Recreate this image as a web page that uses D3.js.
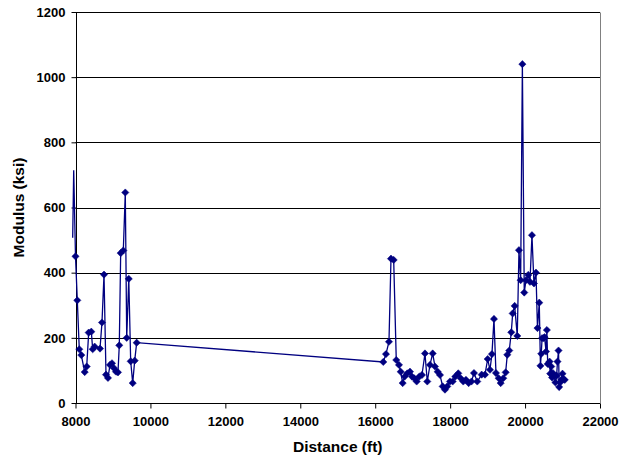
<!DOCTYPE html>
<html><head><meta charset="utf-8">
<script src="https://cdn.jsdelivr.net/npm/d3@7"></script>
<style>
html,body{margin:0;padding:0;background:#fff;}
svg{display:block;}
text{font-family:"Liberation Sans",Arial,sans-serif;font-weight:bold;fill:#000;}
</style></head>
<body>
<svg id="chart" width="629" height="463"></svg>
<script>
const distance = [7925,7952,8000,8048,8101,8155,8246,8299,8352,8422,8459,8512,8654,8707,8761,8814,8867,8921,8974,9028,9081,9134,9169,9206,9276,9329,9367,9422,9473,9527,9580,9633,
16215,16287,16367,16421,16493,16562,16634,16680,16733,16786,16856,16928,16981,17043,17107,17176,17248,17328,17390,17462,17534,17595,17667,17729,17801,17862,17923,17995,18067,18137,18217,18281,18350,18422,18494,18569,18636,18724,
18841,18930,19002,19063,19116,19170,19223,19295,19349,19418,19482,19525,19578,19632,19669,19722,19792,19837,19882,19928,19978,20024,20085,20131,20184,20237,20291,20331,20379,
20410,20432,20454,20499,20521,20560,20582,20604,20654,20671,20699,20721,20743,20776,20810,20843,20865,20893,20910,20938,20965,20999,21027,21060];
const modulus = [507,714,450,315,165,147,95,112,216,219,165,173,167,247,394,87,77,117,122,107,96,94,177,460,468,646,200,381,128,61,130,185,
126,150,188,443,439,132,117,96,61,81,91,96,81,76,66,81,86,152,66,117,152,112,96,86,51,41,51,66,66,81,91,76,66,71,61,66,92,66,
87,87,135,102,150,258,92,76,61,76,94,148,161,217,275,298,206,469,377,1040,339,377,393,372,515,367,400,230,308,
114,151,199,199,202,158,224,120,127,90,112,78,92,84,63,84,127,161,49,63,71,90,73,71];
const xTicks = [8000,10000,12000,14000,16000,18000,20000,22000];
const yTicks = [0,200,400,600,800,1000,1200];
const xTitle = "Distance (ft)";
const yTitle = "Modulus (ksi)";

const svg = d3.select("#chart");
const L = 75.5, R = 600, T = 12, B = 403;
const x = d3.scaleLinear().domain([8000,22000]).range([L,R]);
const y = d3.scaleLinear().domain([0,1200]).range([B,T]);

svg.append("g").selectAll("line").data(yTicks.filter(v=>v>0)).join("line")
  .attr("x1",L).attr("x2",R).attr("y1",d=>Math.round(y(d))+0.5).attr("y2",d=>Math.round(y(d))+0.5)
  .attr("stroke","#000").attr("stroke-width",1);
svg.append("line").attr("x1",Math.round(R)+0.5).attr("x2",Math.round(R)+0.5).attr("y1",Math.round(T)+0.5).attr("y2",Math.round(B)+0.5)
  .attr("stroke","#808080").attr("stroke-width",1);

const xAxis = d3.axisBottom(x).tickValues(xTicks).tickSize(5).tickPadding(8).tickFormat(d3.format("d"));
const yAxis = d3.axisLeft(y).tickValues(yTicks).tickSize(5).tickPadding(6).tickFormat(d3.format("d"));
const gx = svg.append("g").attr("transform",`translate(0,${Math.round(B)+0.5})`).call(xAxis);
const gy = svg.append("g").attr("transform",`translate(${Math.round(L)+0.5},0)`).call(yAxis);
[gx,gy].forEach(g=>{
  g.selectAll("path,line").attr("stroke","#000");
  g.selectAll("text").style("font-size","13px").style("font-family","'Liberation Sans',Arial,sans-serif").style("font-weight","bold");
  g.select(".domain").attr("d", g===gx ? `M${Math.round(L)},0H${Math.round(R)}` : `M0,${Math.round(B)}V${Math.round(T)}`);
});

const pts = distance.map((d,i)=>({d, v: modulus[i]}));
svg.append("path").datum(pts)
  .attr("fill","none").attr("stroke","#000080").attr("stroke-width",1.3)
  .attr("d", d3.line().x(p=>x(p.d)).y(p=>y(p.v)));

const sym = d3.symbol().type(d3.symbolSquare).size(26);
svg.append("g").selectAll("path").data(pts.filter(p=>p.d>=8000)).join("path")
  .attr("d", sym)
  .attr("transform", p=>`translate(${x(p.d)},${y(p.v)}) rotate(45)`)
  .attr("fill","#000080").attr("stroke","#000080").attr("stroke-width",0.5);

svg.append("text").attr("x",(L+R)/2).attr("y",452).attr("text-anchor","middle")
  .style("font-size","15.5px").text(xTitle);
svg.append("text").attr("transform",`translate(24,${(T+B)/2}) rotate(-90)`).attr("text-anchor","middle")
  .style("font-size","15.5px").text(yTitle);
</script>
</body></html>
